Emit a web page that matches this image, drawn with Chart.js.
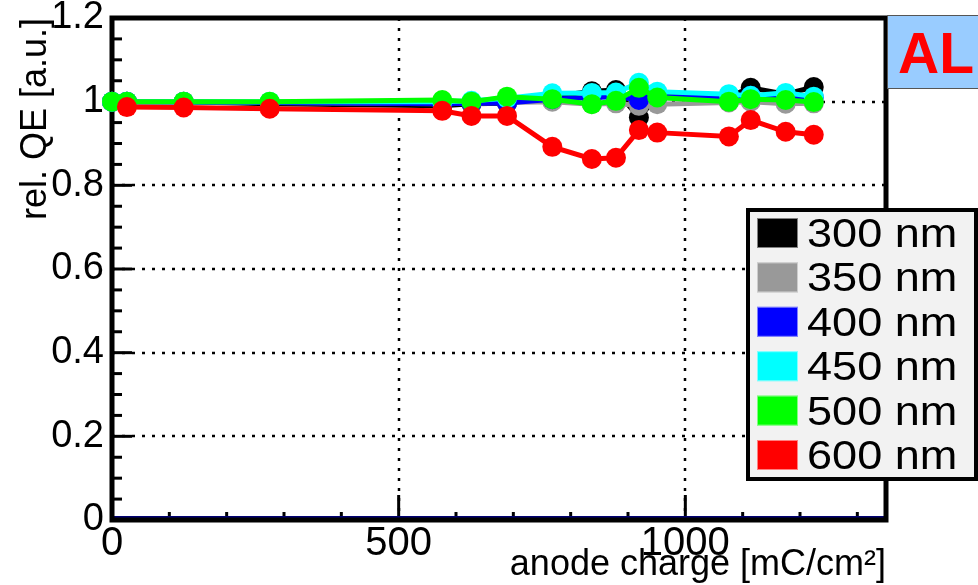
<!DOCTYPE html>
<html>
<head>
<meta charset="utf-8">
<script src="https://cdn.jsdelivr.net/npm/chart.js@4.4.1/dist/chart.umd.min.js"></script>
<style>
  html, body { margin: 0; padding: 0; background: #fff; }
  #wrap { width: 978px; height: 585px; }
</style>
</head>
<body>
<div id="wrap"><canvas id="qeChart" width="978" height="585"></canvas></div>
<script>
// anode charge [mC/cm2] of each measurement
var charge = [0, 26, 125, 275, 576, 627, 689, 768, 837, 879, 919, 951, 1076, 1114, 1175, 1224];
// relative QE per wavelength
var qe300 = [1.0, 1.0, 1.0, 0.995, 0.99, 0.995, 0.996, 1.012, 1.025, 1.028, 0.962, 1.012, 1.012, 1.033, 1.018, 1.035];
var qe350 = [1.0, 1.0, 1.0, 0.998, 0.995, 0.996, 0.998, 1.0, 0.994, 0.996, 0.99, 0.994, 0.998, 1.0, 0.995, 0.996];
var qe400 = [1.0, 1.0, 0.999, 0.998, 0.995, 0.996, 0.997, 1.006, 1.01, 1.012, 1.004, 1.012, 1.01, 1.014, 1.012, 1.01];
var qe450 = [1.0, 1.0, 1.0, 1.0, 1.0, 1.002, 1.008, 1.02, 1.021, 1.022, 1.045, 1.024, 1.018, 1.014, 1.021, 1.012];
var qe500 = [1.0, 1.0, 1.0, 1.0, 1.004, 1.0, 1.012, 1.006, 0.994, 1.002, 1.033, 1.01, 1.0, 1.006, 1.004, 0.999];
var qe600 = [null, 0.987, 0.986, 0.983, 0.978, 0.966, 0.966, 0.892, 0.863, 0.866, 0.932, 0.926, 0.917, 0.956, 0.928, 0.921];

var seriesLabels = ['300 nm', '350 nm', '400 nm', '450 nm', '500 nm', '600 nm'];
var xTicks = [0, 500, 1000];
var yTicks = [0, 0.2, 0.4, 0.6, 0.8, 1.0, 1.2];

var colors = ['#000000', '#999999', '#0000ff', '#00ffff', '#00ff00', '#ff0000'];
var allSeries = [qe300, qe350, qe400, qe450, qe500, qe600];

Chart.defaults.font.family = '"Liberation Sans", Arial, Helvetica, sans-serif';
Chart.defaults.color = '#000';

function toPoints(values) {
  return charge.map(function(c, i) { return { x: c, y: values[i] }; });
}

// ROOT-like frame, dotted grid and inside ticks
var rootFrame = {
  id: 'rootFrame',
  beforeDatasetsDraw: function(chart) {
    var ctx = chart.ctx, a = chart.chartArea;
    var xs = chart.scales.x, ys = chart.scales.y;
    ctx.save();
    ctx.strokeStyle = '#000';
    ctx.lineWidth = 2.5;
    ctx.setLineDash([3, 7]);
    yTicks.forEach(function(v) {
      if (v <= 0 || v >= 1.2) return;
      var py = Math.round(ys.getPixelForValue(v));
      ctx.beginPath(); ctx.moveTo(a.left, py); ctx.lineTo(a.right, py); ctx.stroke();
    });
    xTicks.forEach(function(v) {
      if (v <= 0) return;
      var px = Math.round(xs.getPixelForValue(v));
      ctx.beginPath(); ctx.moveTo(px, a.top); ctx.lineTo(px, a.bottom); ctx.stroke();
    });
    ctx.setLineDash([]);

    // ticks
    ctx.lineWidth = 3;
    for (var k = 0; k <= 24; k++) {
      var py = ys.getPixelForValue(k * 0.05);
      var len = (k % 4 === 0) ? 20 : 10;
      ctx.beginPath(); ctx.moveTo(a.left, py); ctx.lineTo(a.left + len, py); ctx.stroke();
    }
    for (var j = 0; j <= 13; j++) {
      var px = xs.getPixelForValue(j * 100);
      var tl = (j % 5 === 0) ? 25 : 8;
      ctx.beginPath(); ctx.moveTo(px, a.bottom); ctx.lineTo(px, a.bottom - tl); ctx.stroke();
    }

    // navy line along zero
    ctx.strokeStyle = '#000070';
    ctx.lineWidth = 2;
    ctx.beginPath(); ctx.moveTo(a.left, a.bottom - 3); ctx.lineTo(a.right, a.bottom - 3); ctx.stroke();

    ctx.strokeStyle = '#000';
    ctx.lineWidth = 5;
    ctx.strokeRect(a.left, a.top, a.right - a.left, a.bottom - a.top);
    ctx.restore();
  },
  afterDraw: function(chart) {
    var ctx = chart.ctx;
    ctx.save();
    // legend
    ctx.fillStyle = '#f2f2f2';
    ctx.fillRect(748, 210, 228, 269);
    ctx.strokeStyle = '#000';
    ctx.lineWidth = 4;
    ctx.strokeRect(748, 210, 228, 269);
    ctx.font = '41px "Liberation Sans", Arial, sans-serif';
    ctx.textBaseline = 'alphabetic';
    seriesLabels.forEach(function(lab, i) {
      var cy = 233 + i * 44.4;
      ctx.fillStyle = colors[i];
      ctx.fillRect(757, cy - 15, 41, 30);
      ctx.strokeStyle = 'rgba(255,255,255,0.5)';
      ctx.lineWidth = 1;
      ctx.strokeRect(757.5, cy - 14.5, 40, 29);
      ctx.fillStyle = '#000';
      ctx.save();
      ctx.translate(807, cy + 14);
      ctx.scale(1.1, 1);
      ctx.fillText(lab, 0, 0);
      ctx.restore();
    });

    // AL label
    ctx.fillStyle = '#99ccff';
    ctx.fillRect(887, 15, 100, 74);
    ctx.strokeStyle = '#555';
    ctx.lineWidth = 1;
    ctx.strokeRect(887.5, 15.5, 100, 73);
    ctx.fillStyle = '#ff0000';
    ctx.font = 'bold 57px "Liberation Sans", Arial, sans-serif';
    ctx.fillText('AL', 898, 73);
    ctx.restore();
  }
};

var order = [5, 4, 3, 2, 1, 0];
var datasets = allSeries.map(function(vals, i) {
  return {
    label: seriesLabels[i],
    data: toPoints(vals),
    borderColor: colors[i],
    backgroundColor: colors[i],
    pointBackgroundColor: colors[i],
    pointBorderWidth: 0,
    pointRadius: 10,
    borderWidth: 5,
    tension: 0,
    clip: false,
    order: order[i]
  };
});

var qeCanvas = document.getElementById('qeChart').getContext('2d');
var qeChart = new Chart(qeCanvas, {
  type: 'line',
  data: { datasets: datasets },
  plugins: [rootFrame],
  options: {
    responsive: false,
    animation: false,
    events: [],
    layout: { padding: { top: 18, right: 92, left: 0, bottom: 0 } },
    plugins: { legend: { display: false }, tooltip: { enabled: false } },
    scales: {
      x: {
        type: 'linear',
        min: 0,
        max: 1350,
        grid: { display: false, drawTicks: false },
        border: { display: false },
        afterBuildTicks: function(s) { s.ticks = xTicks.map(function(v) { return { value: v }; }); },
        afterFit: function(s) { s.height = 65; s.paddingLeft = 0; s.paddingRight = 0; },
        ticks: {
          font: { size: 40 },
          padding: 0,
          maxRotation: 0,
          autoSkip: false,
          callback: function(v) { return String(v); }
        },
        title: {
          display: true,
          text: 'anode charge [mC/cm²]',
          align: 'end',
          font: { size: 36, lineHeight: 1.1 },
          padding: 0
        }
      },
      y: {
        min: 0,
        max: 1.2,
        grid: { display: false, drawTicks: false },
        border: { display: false },
        afterBuildTicks: function(s) { s.ticks = yTicks.map(function(v) { return { value: v }; }); },
        afterFit: function(s) { s.width = 112; s.paddingTop = 0; s.paddingBottom = 0; },
        ticks: {
          font: { size: 38 },
          padding: 8,
          autoSkip: false,
          callback: function(v) { return String(+v.toFixed(1)); }
        },
        title: {
          display: true,
          text: 'rel. QE [a.u.]',
          align: 'end',
          font: { size: 36, lineHeight: 1.2 },
          padding: { top: 14, bottom: 0 }
        }
      }
    }
  }
});
</script>
</body>
</html>
